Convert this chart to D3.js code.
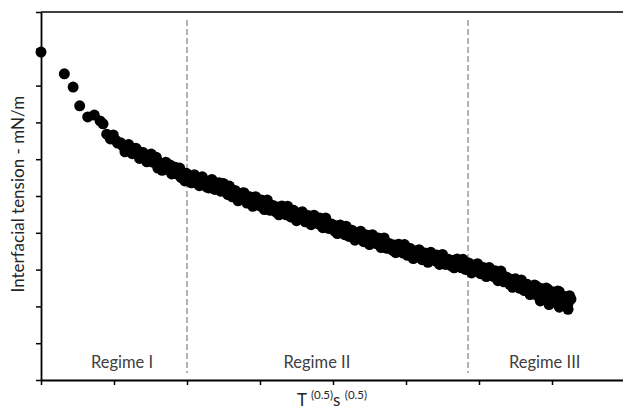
<!DOCTYPE html>
<html>
<head>
<meta charset="utf-8">
<script src="https://cdn.jsdelivr.net/npm/d3@7"></script>
<style>
  body { margin: 0; background: #fff; }
  text { font-family: Lato, "Open Sans", sans-serif; }
</style>
</head>
<body>
<div id="chart"></div>
<script>
// interfacial tension vs T^0.5 S^0.5 - three regimes
// first set of readings
var timeRoot = [
  0.00, 0.32, 0.44, 0.53, 0.64, 0.73, 0.81, 0.85, 0.90, 0.99, 1.05, 1.12, 1.18, 1.22,
  1.27, 1.33, 1.37, 1.42, 1.47, 1.51, 1.56, 1.60, 1.63, 1.68, 1.73, 1.77, 1.81, 1.86,
  1.90, 1.95, 1.97, 2.01, 2.04, 2.08, 2.12, 2.15, 2.19, 2.23, 2.27, 2.32, 2.36, 2.40,
  2.44, 2.48, 2.52, 2.56, 2.60, 2.64, 2.68, 2.72, 2.76, 2.80, 2.84, 2.88, 2.92, 2.96,
  3.00, 3.04, 3.08, 3.12, 3.16, 3.20, 3.24, 3.28, 3.32, 3.36, 3.40, 3.44, 3.48, 3.52,
  3.56, 3.60, 3.64, 3.68, 3.72, 3.76, 3.80, 3.84, 3.88, 3.92, 3.96, 4.00, 4.04, 4.08,
  4.12, 4.16, 4.20, 4.24, 4.28, 4.32, 4.36, 4.40, 4.44, 4.48, 4.52, 4.56, 4.60, 4.64,
  4.68, 4.72, 4.76, 4.80, 4.84, 4.88, 4.92, 4.96, 5.00, 5.04, 5.08, 5.12, 5.16, 5.20,
  5.24, 5.28, 5.32, 5.36, 5.40, 5.44, 5.48, 5.52, 5.56, 5.60, 5.64, 5.68, 5.72, 5.76,
  5.80, 5.84, 5.88, 5.92, 5.96, 6.00, 6.04, 6.08, 6.12, 6.16, 6.20, 6.24, 6.28, 6.32,
  6.36, 6.40, 6.44, 6.48, 6.52, 6.56, 6.60, 6.64, 6.68, 6.72, 6.76, 6.80, 6.84, 6.88,
  6.92, 6.96, 7.00, 7.04, 7.08, 7.12, 7.16, 7.20, 7.24,
  6.84, 6.90, 6.96, 7.04, 7.10, 7.18, 7.22, 7.26
];
var tension = [
  8.91, 8.32, 7.96, 7.45, 7.15, 7.20, 7.04, 6.96, 6.68, 6.66, 6.44, 6.36, 6.25, 6.33,
  6.25, 6.22, 6.11, 6.03, 6.09, 6.14, 5.98, 5.76, 5.90, 5.84, 5.73, 5.84, 5.68, 5.60,
  5.76, 5.57, 5.41, 5.54, 5.46, 5.49, 5.38, 5.33, 5.49, 5.41, 5.24, 5.38, 5.27, 5.35,
  5.36, 5.19, 5.21, 5.04, 5.18, 5.05, 5.08, 4.94, 5.08, 4.90, 4.91, 4.78, 4.90, 4.91,
  4.73, 4.78, 4.66, 4.78, 4.66, 4.70, 4.70, 4.57, 4.62, 4.49, 4.63, 4.51, 4.54, 4.41,
  4.55, 4.39, 4.40, 4.28, 4.40, 4.42, 4.24, 4.29, 4.17, 4.29, 4.16, 4.19, 4.19, 4.05,
  4.09, 3.95, 4.10, 3.97, 4.01, 3.87, 4.02, 3.85, 3.87, 3.74, 3.87, 3.88, 3.70, 3.75,
  3.63, 3.75, 3.62, 3.66, 3.67, 3.53, 3.58, 3.45, 3.59, 3.47, 3.51, 3.37, 3.52, 3.36,
  3.38, 3.26, 3.39, 3.41, 3.24, 3.29, 3.18, 3.31, 3.19, 3.24, 3.25, 3.13, 3.18, 3.05,
  3.20, 3.08, 3.12, 2.99, 3.14, 2.98, 2.99, 2.87, 2.99, 2.99, 2.81, 2.85, 2.73, 2.85,
  2.71, 2.74, 2.74, 2.59, 2.63, 2.49, 2.63, 2.50, 2.53, 2.39, 2.58, 2.29, 2.49, 2.22,
  2.50, 2.20, 2.39, 2.13, 2.42, 2.10, 2.27, 2.11, 2.29,
  2.15, 2.40, 2.05, 2.35, 1.98, 2.02, 1.92, 2.20
];

// second set of readings (repeat run)
var timeRoot2 = [
  0.95, 1.02, 1.09, 1.15, 1.20, 1.25, 1.30, 1.35, 1.40, 1.45, 1.53, 1.58, 1.66, 1.71,
  1.79, 1.84, 1.92, 1.99, 2.06, 2.10, 2.17, 2.21, 2.30, 2.34, 2.38,
  2.46, 2.50, 2.54, 2.58, 2.62, 2.66, 2.70, 2.74, 2.78, 2.82, 2.86, 2.90, 2.94, 2.98,
  3.02, 3.06, 3.10, 3.14, 3.18, 3.22, 3.26, 3.30, 3.34, 3.38, 3.42, 3.46, 3.50, 3.54,
  3.58, 3.62, 3.66, 3.70, 3.74, 3.78, 3.82, 3.86, 3.90, 3.94, 3.98, 4.02, 4.06, 4.10,
  4.14, 4.18, 4.22, 4.26, 4.30, 4.34, 4.38, 4.42, 4.46, 4.50, 4.54, 4.58, 4.62, 4.66,
  4.70, 4.74, 4.78, 4.82, 4.86, 4.90, 4.94, 4.98, 5.02, 5.06, 5.10, 5.14, 5.18, 5.22,
  5.26, 5.30, 5.34, 5.38, 5.42, 5.46, 5.50, 5.54, 5.58, 5.62, 5.66, 5.70, 5.74, 5.78,
  5.82, 5.86, 5.90, 5.94, 5.98, 6.02, 6.06, 6.10, 6.14, 6.18, 6.22, 6.26, 6.30, 6.34,
  6.38, 6.42, 6.46, 6.50, 6.54, 6.58, 6.62, 6.66, 6.70, 6.74, 6.78, 6.82, 6.86, 6.90,
  6.94, 6.98, 7.02, 7.06, 7.10, 7.14, 7.18, 7.22
];
var tension2 = [
  6.55, 6.52, 6.45, 6.20, 6.40, 6.15, 6.30, 6.02, 6.18, 5.93, 5.92, 6.05, 5.70, 5.92,
  5.60, 5.78, 5.50, 5.62, 5.36, 5.58, 5.28, 5.52, 5.22, 5.45, 5.18,
  5.13, 5.34, 5.10, 5.27, 4.98, 5.15, 4.87, 5.05, 5.09, 4.81, 4.98, 4.72, 4.98, 4.77,
  4.89, 4.63, 4.89, 4.61, 4.74, 4.56, 4.49, 4.73, 4.53, 4.72, 4.43, 4.61, 4.33, 4.52,
  4.57, 4.30, 4.47, 4.22, 4.48, 4.28, 4.40, 4.14, 4.40, 4.12, 4.24, 4.05, 3.98, 4.21,
  4.00, 4.18, 3.90, 4.07, 3.80, 3.98, 4.04, 3.76, 3.94, 3.68, 3.95, 3.74, 3.86, 3.60,
  3.86, 3.58, 3.70, 3.52, 3.46, 3.69, 3.49, 3.68, 3.39, 3.57, 3.30, 3.48, 3.54, 3.27,
  3.45, 3.20, 3.47, 3.27, 3.40, 3.14, 3.41, 3.14, 3.28, 3.10, 3.05, 3.29, 3.09, 3.28,
  3.00, 3.18, 2.91, 3.10, 3.16, 2.89, 3.06, 2.81, 3.06, 2.85, 2.97, 2.70, 2.96, 2.67,
  2.79, 2.60, 2.52, 2.75, 2.54, 2.72, 2.43, 2.60, 2.32, 2.50, 2.56, 2.28, 2.46, 2.21,
  2.47, 2.27, 2.39, 2.13, 2.40, 2.13, 2.26, 2.08
];

var xTicks = [0, 1, 2, 3, 4, 5, 6, 7, 8];
var yTicks = [0, 1, 2, 3, 4, 5, 6, 7, 8, 9, 10];
var regimeBounds = [2.0, 5.85];
var regimeNames = ["Regime I", "Regime II", "Regime III"];
var regimeCentres = [1.11, 3.78, 6.90];

var width = 623, height = 415;
var margin = { top: 12, left: 41, right: -2, bottom: 35 };

var svg = d3.select("#chart").append("svg")
    .attr("width", width)
    .attr("height", height);

var x = d3.scaleLinear()
    .domain([0, 8])
    .range([margin.left, width - margin.right]);

var y = d3.scaleLinear()
    .domain([0, 10])
    .range([height - margin.bottom, margin.top]);

// top border
svg.append("line")
    .attr("x1", x(0)).attr("x2", x(8))
    .attr("y1", y(10)).attr("y2", y(10))
    .attr("stroke", "#000")
    .attr("stroke-width", 1.5);

// regime dividers
svg.selectAll(".divider")
    .data(regimeBounds)
    .enter()
    .append("line")
    .attr("class", "divider")
    .attr("x1", d => x(d)).attr("x2", d => x(d))
    .attr("y1", y(9.78)).attr("y2", y(0.19))
    .attr("stroke", "#808080")
    .attr("stroke-width", 1.2)
    .attr("stroke-dasharray", "6,3");

var xAxis = svg.append("g")
    .attr("transform", "translate(0," + y(0) + ")")
    .call(d3.axisBottom(x).tickValues(xTicks).tickSize(5).tickSizeOuter(0).tickFormat(""));

var yAxis = svg.append("g")
    .attr("transform", "translate(" + x(0) + ",0)")
    .call(d3.axisLeft(y).tickValues(yTicks).tickSize(5).tickSizeOuter(0).tickFormat(""));

[xAxis, yAxis].forEach(function(g) {
    g.select(".domain").attr("stroke", "#000").attr("stroke-width", 1.8);
    g.selectAll(".tick line").attr("stroke", "#000").attr("stroke-width", 1.5);
});

var points = timeRoot.map((t, i) => [t, tension[i]])
    .concat(timeRoot2.map((t, i) => [t, tension2[i]]));

svg.selectAll(".pt")
    .data(points)
    .enter()
    .append("circle")
    .attr("class", "pt")
    .attr("cx", d => x(d[0]))
    .attr("cy", d => y(d[1]))
    .attr("r", 5.5)
    .attr("fill", "#000");

svg.selectAll(".regime")
    .data(regimeNames)
    .enter()
    .append("text")
    .attr("class", "regime")
    .attr("x", (d, i) => x(regimeCentres[i]))
    .attr("y", y(0.33))
    .attr("text-anchor", "middle")
    .style("font-size", "16.5px")
    .style("fill", "#404040")
    .text(d => d);

// y label
svg.append("text")
    .attr("transform", "translate(24," + y(5.05) + ") rotate(-90)")
    .attr("text-anchor", "middle")
    .style("font-size", "17px")
    .style("fill", "#262626")
    .text("Interfacial tension - mN/m");

// x label with superscripts
var xl = svg.append("text")
    .attr("x", 297)
    .attr("y", 406)
    .style("font-size", "17px")
    .style("fill", "#262626");
xl.append("tspan").text("T ");
xl.append("tspan").attr("dy", -7).style("font-size", "11.5px").text("(0.5)");
xl.append("tspan").attr("dy", 7).text("s ");
xl.append("tspan").attr("dy", -7).style("font-size", "11.5px").text("(0.5)");
</script>
</body>
</html>
